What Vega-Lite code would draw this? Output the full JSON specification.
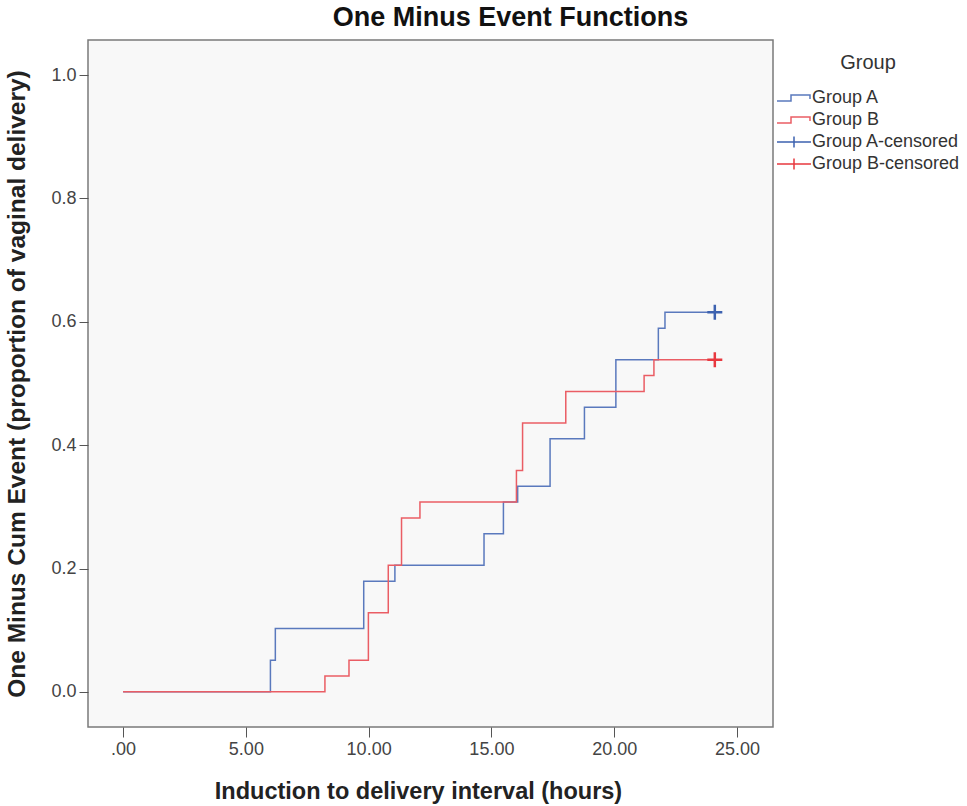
{
  "$schema": "https://vega.github.io/schema/vega-lite/v6.json",
  "width": 685,
  "height": 687,
  "autosize": {"type": "none"},
  "padding": {"left": 88, "top": 40, "right": 194, "bottom": 79},
  "background": "white",
  "title": {
    "text": "One Minus Event Functions",
    "anchor": "middle",
    "dx": 80,
    "offset": 8,
    "fontSize": 27,
    "fontWeight": "bold",
    "color": "#111"
  },
  "config": {
    "font": "Liberation Sans",
    "view": {"fill": "#f8f8f8", "stroke": "#7a7a7a", "strokeWidth": 1.5}
  },
  "data": {
    "values": [
      {"series": "Group A", "time": 0, "surv": 0},
      {"series": "Group A", "time": 6.0, "surv": 0.0513},
      {"series": "Group A", "time": 6.2, "surv": 0.1026},
      {"series": "Group A", "time": 9.8, "surv": 0.1795},
      {"series": "Group A", "time": 11.07, "surv": 0.2051},
      {"series": "Group A", "time": 14.7, "surv": 0.2564},
      {"series": "Group A", "time": 15.49, "surv": 0.3077},
      {"series": "Group A", "time": 16.07, "surv": 0.3333},
      {"series": "Group A", "time": 17.39, "surv": 0.4103},
      {"series": "Group A", "time": 18.79, "surv": 0.4615},
      {"series": "Group A", "time": 20.07, "surv": 0.5385},
      {"series": "Group A", "time": 21.8, "surv": 0.5897},
      {"series": "Group A", "time": 22.07, "surv": 0.6154},
      {"series": "Group A", "time": 24.1, "surv": 0.6154},
      {"series": "Group B", "time": 0, "surv": 0},
      {"series": "Group B", "time": 8.22, "surv": 0.0256},
      {"series": "Group B", "time": 9.2, "surv": 0.0513},
      {"series": "Group B", "time": 9.99, "surv": 0.1282},
      {"series": "Group B", "time": 10.8, "surv": 0.2051},
      {"series": "Group B", "time": 11.34, "surv": 0.2821},
      {"series": "Group B", "time": 12.09, "surv": 0.3077},
      {"series": "Group B", "time": 16.02, "surv": 0.359},
      {"series": "Group B", "time": 16.27, "surv": 0.4359},
      {"series": "Group B", "time": 18.03, "surv": 0.4872},
      {"series": "Group B", "time": 21.22, "surv": 0.5128},
      {"series": "Group B", "time": 21.62, "surv": 0.5385},
      {"series": "Group B", "time": 24.1, "surv": 0.5385},
      {"series": "Group A-censored", "time": 24.1, "surv": 0.6154},
      {"series": "Group B-censored", "time": 24.1, "surv": 0.5385}
    ]
  },
  "encoding": {
    "x": {
      "field": "time",
      "type": "quantitative",
      "scale": {"domain": [-1.43, 26.47], "nice": false, "zero": false},
      "axis": {
        "title": "Induction to delivery interval (hours)",
        "values": [0, 5, 10, 15, 20, 25],
        "labelExpr": "datum.value == 0 ? '.00' : format(datum.value, '.2f')",
        "grid": false,
        "domain": false,
        "tickSize": 10,
        "tickColor": "#555",
        "labelPadding": 3,
        "labelFontSize": 18,
        "labelColor": "#444",
        "titleFontSize": 23.5,
        "titleFontWeight": "bold",
        "titleColor": "#222",
        "titlePadding": 21,
        "titleX": 330
      }
    },
    "y": {
      "field": "surv",
      "type": "quantitative",
      "scale": {"domain": [-0.057, 1.057], "nice": false, "zero": false},
      "axis": {
        "title": "One Minus Cum Event (proportion of vaginal delivery)",
        "values": [0, 0.2, 0.4, 0.6, 0.8, 1.0],
        "format": ".1f",
        "grid": false,
        "domain": false,
        "tickSize": 9,
        "tickColor": "#555",
        "labelPadding": 3,
        "labelFontSize": 18,
        "labelColor": "#444",
        "titleFontSize": 24.5,
        "titleFontWeight": "bold",
        "titleColor": "#222",
        "titlePadding": 21
      }
    },
    "color": {
      "field": "series",
      "type": "nominal",
      "scale": {
        "domain": ["Group A", "Group B", "Group A-censored", "Group B-censored"],
        "range": ["#5a79bd", "#ea5d64", "#3d62b0", "#e8383f"]
      },
      "legend": {
        "title": "Group",
        "orient": "none",
        "legendX": 688,
        "legendY": 13,
        "padding": 0,
        "titleAnchor": "middle",
        "titleFontSize": 20,
        "titleFontWeight": "normal",
        "titleColor": "#333",
        "titlePadding": 14,
        "labelFontSize": 18,
        "labelColor": "#333",
        "labelOffset": 14,
        "rowPadding": 2,
        "symbolSize": 400,
        "symbolType": "M-1,0.3H0.4V-0.3H2.3V0.1",
        "symbolFillColor": "transparent",
        "symbolStrokeWidth": 1.5,
        "encode": {
          "symbols": {
            "update": {
              "shape": {"signal": "indexof(datum.label, 'censored') >= 0 ? 'M-1,0H2.4M0.7,-0.55V0.55' : 'M-1,0.3H0.4V-0.3H2.3V0.1'"},
              "fill": {"value": "transparent"}
            }
          }
        }
      }
    }
  },
  "layer": [
    {
      "transform": [{"filter": "indexof(datum.series, 'censored') < 0"}],
      "mark": {"type": "line", "interpolate": "step-after", "strokeWidth": 1.5}
    },
    {
      "transform": [{"filter": "indexof(datum.series, 'censored') >= 0"}],
      "mark": {"type": "point", "shape": "M-1,0H1M0,-1V1", "filled": false, "size": 225, "strokeWidth": 2.5, "opacity": 1}
    }
  ]
}
